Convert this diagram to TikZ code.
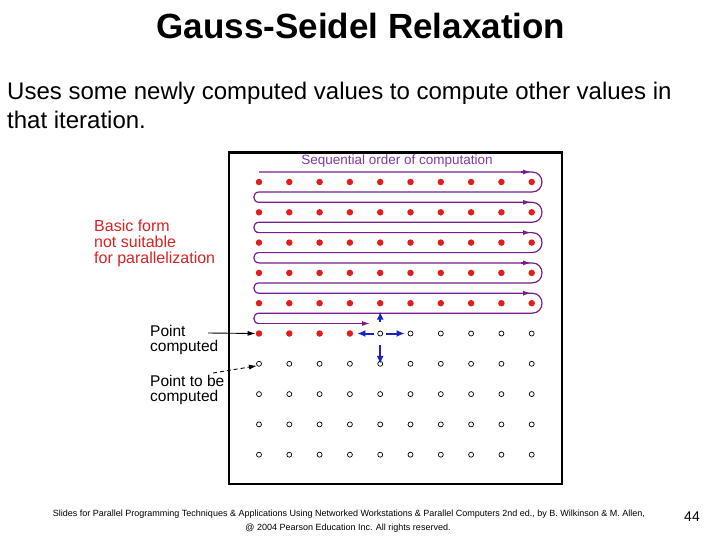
\documentclass[tikz,border=0pt]{standalone}
\usepackage{fontspec}
\setmainfont{Liberation Sans}
\usetikzlibrary{arrows.meta}
\definecolor{ptred}{RGB}{225,30,30}
\definecolor{lblred}{RGB}{215,35,35}
\definecolor{serpcol}{RGB}{120,30,140}
\definecolor{seqcol}{RGB}{135,55,165}
\definecolor{nbblue}{RGB}{25,35,195}
\tikzset{
  dotred/.style={circle, fill=ptred, inner sep=0pt, minimum size=6.5pt},
  dotopen/.style={circle, draw=black, line width=0.7pt, inner sep=0pt, minimum size=5pt},
  serp/.style={draw=serpcol, line width=1.2pt},
  serptip/.style={draw=serpcol, line width=1.2pt, -{Latex[length=8pt,width=5pt]}},
  nbarrow/.style={draw=nbblue, line width=2pt, -{Latex[length=8pt,width=7pt]}},
  lbltext/.style={inner sep=0pt, anchor=base west, align=left},
  footer/.style={inner sep=0pt, anchor=base, font=\fontsize{9}{10}\selectfont}
}
\begin{document}
\begin{tikzpicture}[x=1pt,y=-1pt]
\useasboundingbox (0,0) rectangle (720,540);
% title and body
\node[inner sep=0pt, anchor=base, font=\fontsize{35}{40}\selectfont\bfseries] (title) at (361,39) {Gauss-Seidel Relaxation};
\node[inner sep=0pt, anchor=base west, font=\fontsize{24}{28}\selectfont] (body1) at (7,100) {Uses some newly computed values to compute other values in};
\node[inner sep=0pt, anchor=base west, font=\fontsize{24}{28}\selectfont] (body2) at (7,129) {that iteration.};
% frame
\draw[line width=2.5pt] (229,152.5) rectangle (562,484);
\node[inner sep=0pt, anchor=base, text=seqcol, font=\fontsize{13.5}{15}\selectfont] (seq) at (397,165) {Sequential order of computation};
% grid points
\foreach \r in {1,...,5}{
  \foreach \c in {1,...,10}{
    \node[dotred] (p-\r-\c) at ({259+(\c-1)*30.3},{182+(\r-1)*30.3}) {};
  }
}
\foreach \c in {1,...,4}{
  \node[dotred] (p-6-\c) at ({259+(\c-1)*30.3},{182+5*30.3}) {};
}
\foreach \c in {5,...,10}{
  \node[dotopen] (p-6-\c) at ({259+(\c-1)*30.3},{182+5*30.3}) {};
}
\foreach \r in {7,...,10}{
  \foreach \c in {1,...,10}{
    \node[dotopen] (p-\r-\c) at ({259+(\c-1)*30.3},{182+(\r-1)*30.3}) {};
  }
}
% serpentine order of computation
\foreach \r in {1,...,5}{
  \pgfmathsetmacro\ya{182+(\r-1)*30.3-10}
  \pgfmathsetmacro\yb{\ya+20}
  \pgfmathsetmacro\yc{\ya+30.3}
  \draw[serp] (259,\ya) -- (532,\ya) .. controls (545.3,\ya) and (545.3,\yb) .. (532,\yb)
     -- (259,\yb) .. controls (252.1,\yb) and (252.1,\yc) .. (259,\yc);
  \draw[serptip] (521,\ya) -- (531,\ya);
}
\draw[serptip] (259,323.5) -- (370,323.5);
% neighbour arrows
\draw[nbarrow] ([xshift=-3pt]p-6-5.west) -- ([xshift=4pt]p-6-4.east);
\draw[nbarrow] ([xshift=3pt]p-6-5.east) -- ([xshift=-3pt]p-6-6.west);
\draw[nbarrow] ([yshift=9pt]p-6-5.north) -- ([yshift=-5pt]p-5-5.south);
\draw[nbarrow] ([yshift=-9pt]p-6-5.south) -- ([yshift=-3pt]p-7-5.north);
% left labels
\node[lbltext, text=lblred, font=\fontsize{16}{16}\selectfont] (basic) at (94,263) {Basic form\\not suitable\\for parallelization};
\node[lbltext, font=\fontsize{15.5}{14.5}\selectfont] (pc) at (150,351) {Point\\computed};
\node[lbltext, font=\fontsize{15.5}{14.5}\selectfont] (ptb) at (150,401) {Point to be\\computed};
\coordinate (pcstart) at (208,333);
\coordinate (ptbstart) at (213,373);
\draw[line width=0.9pt, -{Latex[length=8pt,width=5pt]}] (pcstart) -- (p-6-1.west);
\draw[line width=0.9pt, dash pattern=on 4pt off 3pt, -{Latex[length=8pt,width=5pt]}] (ptbstart) -- (p-7-1.south west);
% footer
\node[footer] (foot1) at (349,516) {Slides for Parallel Programming Techniques \& Applications Using Networked Workstations \& Parallel Computers 2nd ed., by B. Wilkinson \& M. Allen,};
\node[footer] (foot2) at (348,530.5) {@ 2004 Pearson Education Inc. All rights reserved.};
\node[inner sep=0pt, anchor=base, font=\fontsize{14}{16}\selectfont] (page) at (692,521) {44};
\end{tikzpicture}
\end{document}
